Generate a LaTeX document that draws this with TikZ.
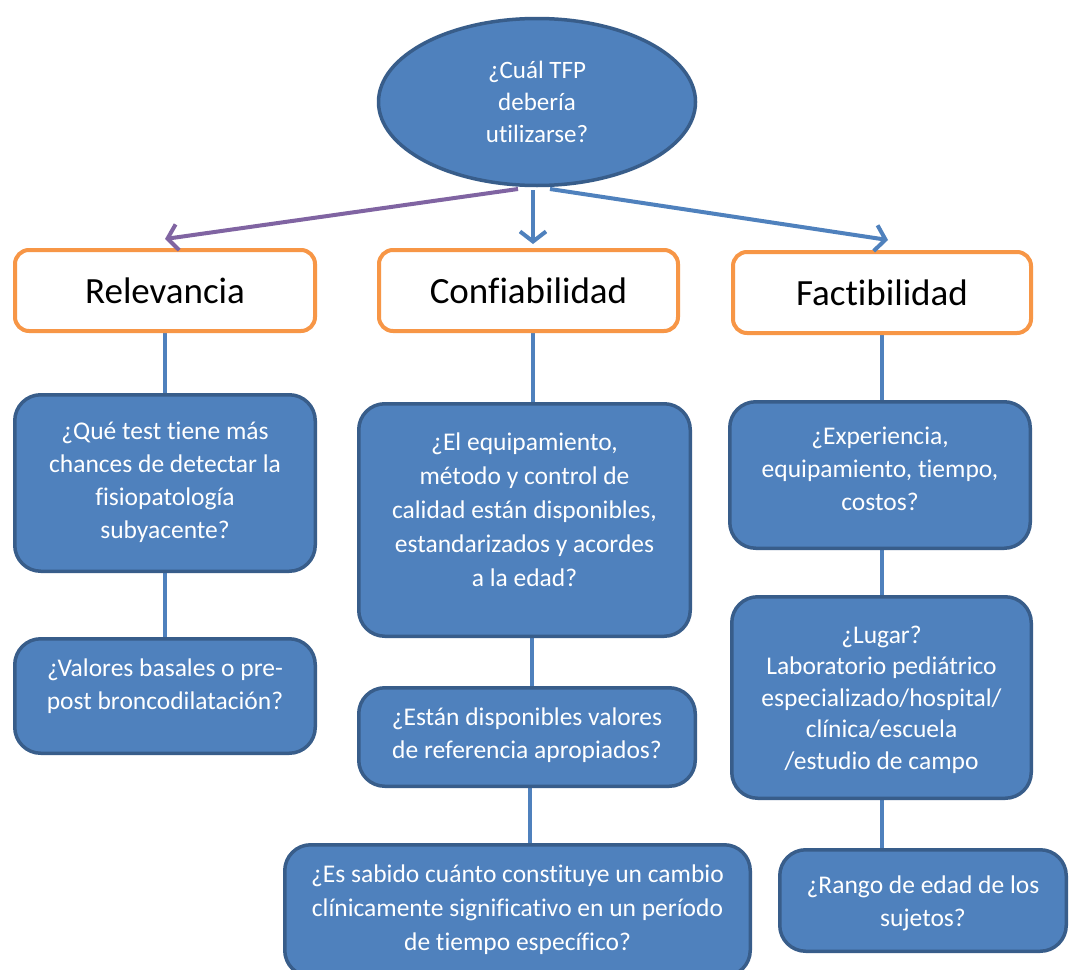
\documentclass[tikz,border=0pt]{standalone}
\usepackage{fontspec}
\setmainfont{Carlito}[Ligatures=NoCommon]
\usetikzlibrary{arrows.meta,shapes.geometric,backgrounds}
\definecolor{boxblue}{HTML}{4F81BD}
\definecolor{boxedge}{HTML}{385D8A}
\definecolor{orng}{HTML}{F79646}
\definecolor{purp}{HTML}{8064A2}
\begin{document}
\begin{tikzpicture}[x=1pt,y=-1pt,
  topbox/.style={draw=orng, line width=4pt, fill=white, rounded corners=14pt, font=\fontsize{37}{42}\selectfont, inner sep=0pt},
  qbox/.style={draw=boxedge, line width=3.5pt, fill=boxblue, rounded corners=26pt, inner sep=0pt},
  qtext/.style={text=white, align=center, inner sep=0pt, font=\fontsize{25.5}{33}\selectfont},
  conn/.style={draw=boxblue, line width=4pt},
  arr/.style={line width=4pt, -{Straight Barb[length=10pt,width=26pt]}}]
\useasboundingbox (0,0) rectangle (1070,969);
\clip (0,0) rectangle (1070,969);
% top ellipse
\node[ellipse, draw=boxedge, line width=3.5pt, fill=boxblue, minimum width=317, minimum height=167, inner sep=0pt] (top) at (537,102) {};
\node[qtext, font=\fontsize{25}{32}\selectfont] (topt) at (537,102) {¿Cuál TFP\\debería\\utilizarse?};
% top row
\node[topbox, minimum width=300, minimum height=81] (rel) at (165,290.5) {Relevancia};
\node[topbox, minimum width=299, minimum height=81] (conf) at (528.5,290.5) {Confiabilidad};
\node[topbox, minimum width=298, minimum height=81] (fact) at (882,292.5) {Factibilidad};
% left column
\node[qbox, minimum width=300.5, minimum height=176.5] (q1) at (165,483) {};
\node[qtext] (q1t) at (165,482) {¿Qué test tiene más\\chances de detectar la\\fisiopatología\\subyacente?};
\node[qbox, minimum width=300.5, minimum height=114.5] (q2) at (165,696) {};
\node[qtext] (q2t) at (165,686.5) {¿Valores basales o pre-\\post broncodilatación?};
% middle column
\node[qbox, minimum width=331.5, minimum height=232.5] (m1) at (524.5,520) {};
\node[qtext, font=\fontsize{25.5}{34}\selectfont] (m1t) at (524.5,510) {¿El equipamiento,\\método y control de\\calidad están disponibles,\\estandarizados y acordes\\a la edad?};
\node[qbox, minimum width=336.5, minimum height=98.5] (m2) at (527,737) {};
\node[qtext] (m2t) at (527,735) {¿Están disponibles valores\\de referencia apropiados?};
\node[qbox, minimum width=465.5, minimum height=131.5] (m3) at (517.5,910.5) {};
\node[qtext, font=\fontsize{25.5}{34}\selectfont] (m3t) at (517.5,910) {¿Es sabido cuánto constituye un cambio\\clínicamente significativo en un período\\de tiempo específico?};
% right column
\node[qbox, minimum width=300.5, minimum height=146.5] (f1) at (880,475) {};
\node[qtext] (f1t) at (880,469) {¿Experiencia,\\equipamiento, tiempo,\\costos?};
\node[qbox, minimum width=299.5, minimum height=201.5] (f2) at (881.5,697.5) {};
\node[qtext, font=\fontsize{25.5}{31.5}\selectfont] (f2t) at (881.5,699.5) {¿Lugar?\\Laboratorio pediátrico\\especializado/hospital/\\clínica/escuela\\/estudio de campo};
\node[qbox, minimum width=286.5, minimum height=101.5] (f3) at (923,900.5) {};
\node[qtext] (f3t) at (923,903.5) {¿Rango de edad de los\\sujetos?};
% coordinates
\coordinate (aL0) at (518,189);
\coordinate (aL1) at (165,239);
\coordinate (aM0) at (533,190);
\coordinate (aM1) at (533,244);
\coordinate (aR0) at (550,189);
\coordinate (aR1) at (888,240);
\coordinate (xm1) at (533,0);
\coordinate (xm2) at (532,0);
\coordinate (xm3) at (530,0);
\coordinate (xr) at (882,0);
\begin{scope}[on background layer]
\fill[white] (0,0) rectangle (1070,969);
\draw[conn] (rel.south) -- (q1.north);
\draw[conn] (q1.south) -- (q2.north);
\draw[conn] (conf.south -| xm1) -- (m1.north -| xm1);
\draw[conn] (m1.south -| xm2) -- (m2.north -| xm2);
\draw[conn] (m2.south -| xm3) -- (m3.north -| xm3);
\draw[conn] (fact.south -| xr) -- (f1.north -| xr);
\draw[conn] (f1.south -| xr) -- (f2.north -| xr);
\draw[conn] (f2.south -| xr) -- (f3.north -| xr);
\end{scope}
% arrows
\draw[arr, draw=purp] (aL0) -- (aL1);
\draw[arr, draw=boxblue] (aM0) -- (aM1);
\draw[arr, draw=boxblue] (aR0) -- (aR1);
\end{tikzpicture}
\end{document}
